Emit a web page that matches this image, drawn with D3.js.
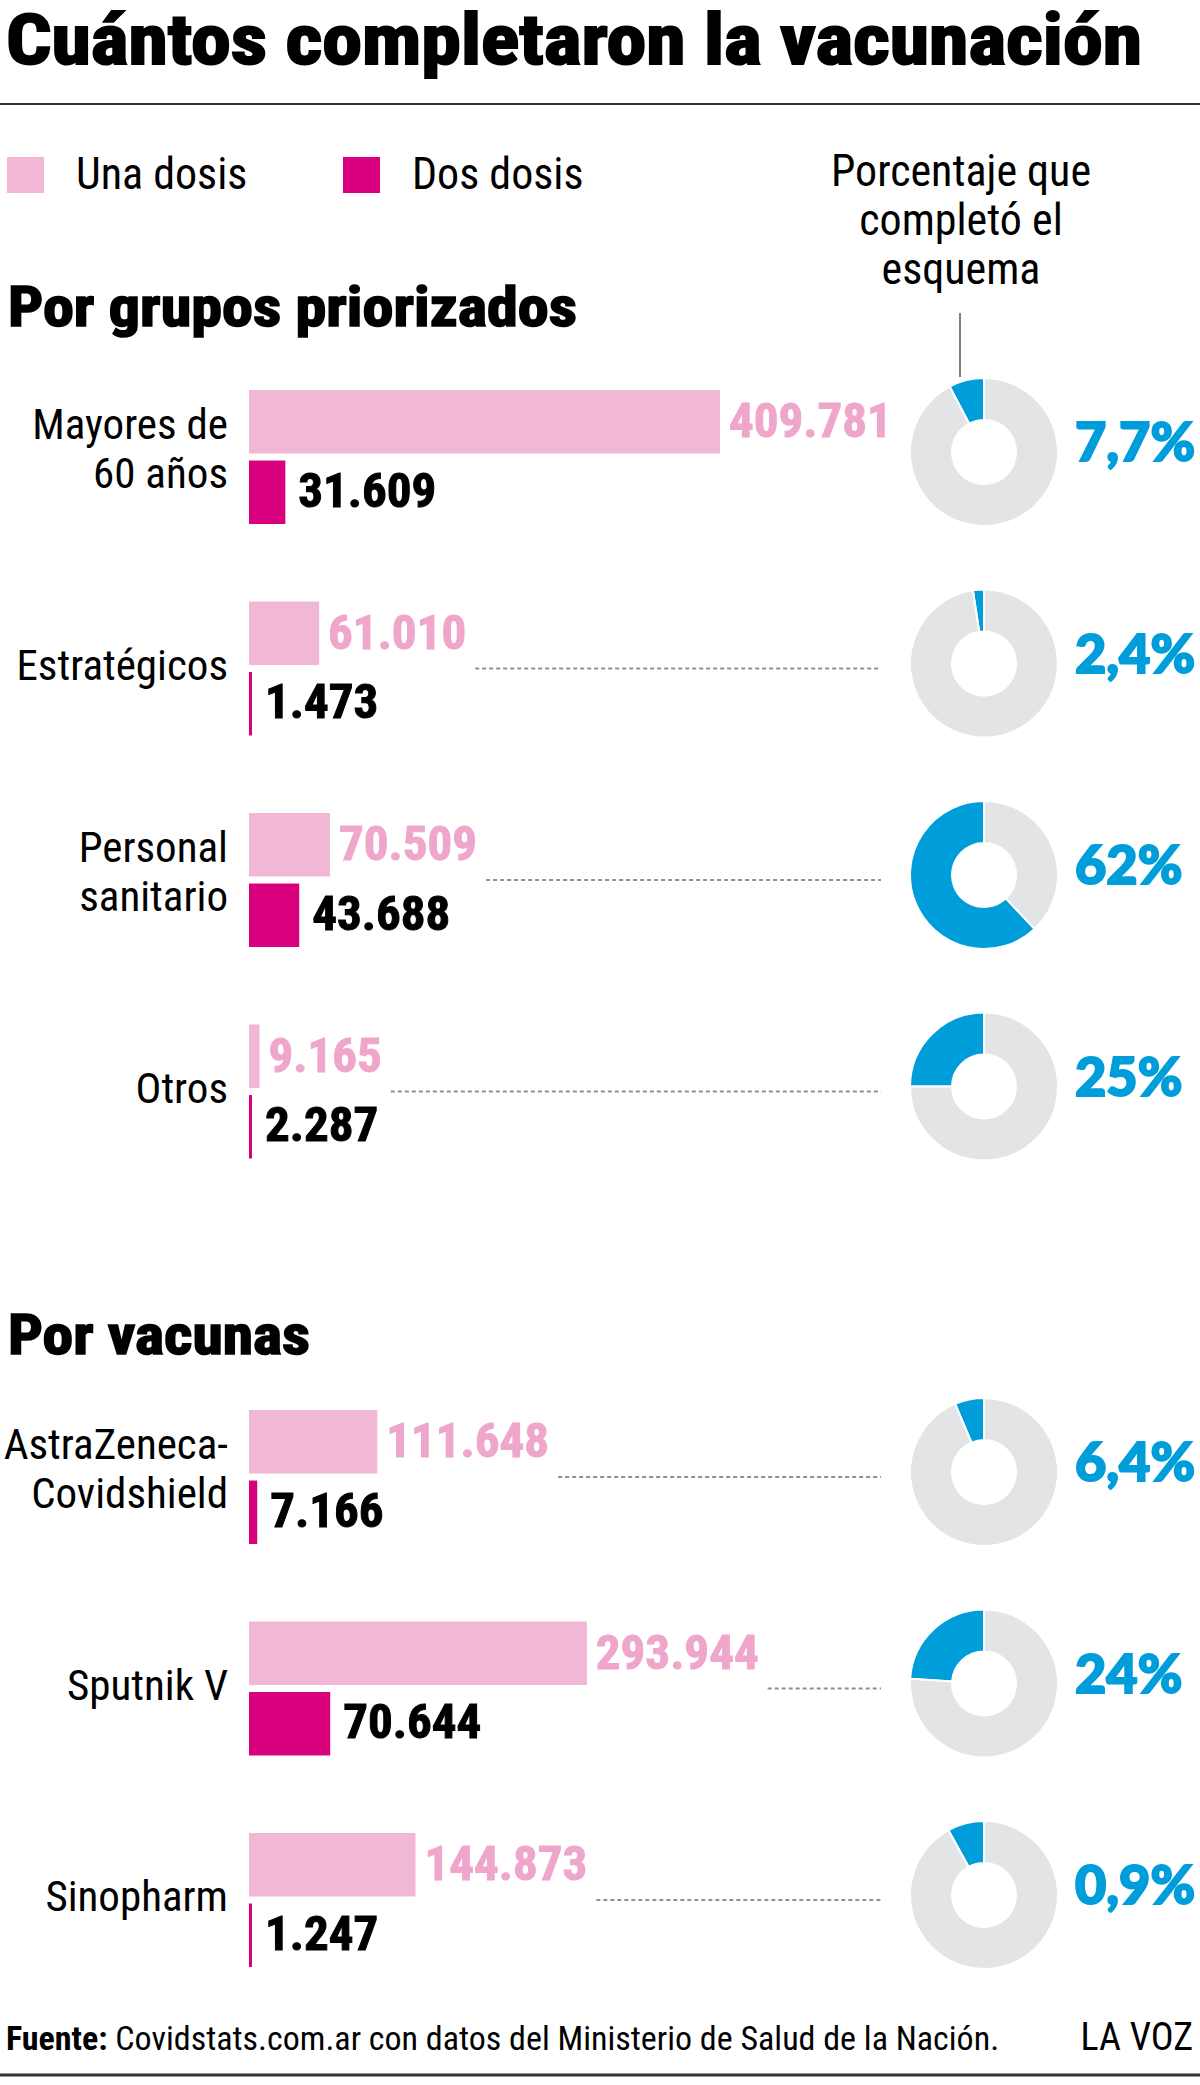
<!doctype html>
<html lang="es">
<head>
<meta charset="UTF-8">
<title>Cuántos completaron la vacunación</title>
<script src="https://d3js.org/d3.v7.min.js"></script>
<style>
  body { margin: 0; background: #fff; }
  svg { display: block; }
  .narrow { font-family: 'Liberation Sans Narrow', 'Roboto Condensed', 'DejaVu Sans Condensed', Roboto, sans-serif; font-stretch: condensed; }
  .heavy { font-family: Lato, 'Open Sans', sans-serif; font-weight: 900; }
</style>
</head>
<body>
<script>
  // --- datos ---
  var grupos = ["Mayores de\n60 años", "Estratégicos", "Personal\nsanitario", "Otros"];
  var gruposUna = [409781, 61010, 70509, 9165];
  var gruposDos = [31609, 1473, 43688, 2287];
  var gruposPct = ["7,7%", "2,4%", "62%", "25%"];
  var gruposAnillo = [7.7, 2.4, 62, 25];   // porción dibujada en el anillo

  var vacunas = ["AstraZeneca-\nCovidshield", "Sputnik V", "Sinopharm"];
  var vacunasUna = [111648, 293944, 144873];
  var vacunasDos = [7166, 70644, 1247];
  var vacunasPct = ["6,4%", "24%", "0,9%"];
  var vacunasAnillo = [6.4, 24, 8];

  var leyenda = ["Una dosis", "Dos dosis"];

  var width = 1200, height = 2085;
  var rosa = "#f1b8d6", rosaTexto = "#efa6cb", magenta = "#d9007e",
      azul = "#009ddb", gris = "#e3e4e6";

  var fmt = d3.formatLocale({decimal: ",", thousands: ".", grouping: [3], currency: ["$", ""]}).format(",d");

  var svg = d3.select("body").append("svg")
      .attr("width", width)
      .attr("height", height);

  // titulo
  svg.append("text")
      .attr("class", "narrow")
      .attr("x", 6).attr("y", 64)
      .attr("font-size", 70).attr("font-weight", 700)
      .attr("stroke", "#000").attr("stroke-width", 2)
      .attr("textLength", 1136).attr("lengthAdjust", "spacingAndGlyphs")
      .text("Cuántos completaron la vacunación");

  svg.append("line")
      .attr("x1", 0).attr("x2", width)
      .attr("y1", 104).attr("y2", 104)
      .attr("stroke", "#333").attr("stroke-width", 2);

  // leyenda
  var leyX = d3.scaleOrdinal().domain(leyenda).range([7, 343]);
  var leyColor = d3.scaleOrdinal().domain(leyenda).range([rosa, magenta]);
  var ley = svg.append("g").selectAll("g").data(leyenda).join("g")
      .attr("transform", function(d) { return "translate(" + leyX(d) + ",0)"; });
  ley.append("rect")
      .attr("y", 157).attr("width", 37).attr("height", 36)
      .attr("fill", function(d) { return leyColor(d); });
  ley.append("text")
      .attr("class", "narrow")
      .attr("x", 69).attr("y", 189)
      .attr("font-size", 44)
      .text(function(d) { return d; });

  var sub = svg.append("text")
      .attr("class", "narrow")
      .attr("text-anchor", "middle")
      .attr("font-size", 44);
  ["Porcentaje que", "completó el", "esquema"].forEach(function(t, i) {
    sub.append("tspan").attr("x", 961).attr("y", 186 + i * 49).text(t);
  });
  svg.append("line")
      .attr("x1", 960).attr("x2", 960)
      .attr("y1", 313).attr("y2", 377)
      .attr("stroke", "#555").attr("stroke-width", 1.5);

  var x = d3.scaleLinear()
      .domain([0, d3.max(gruposUna)])
      .range([249, 720]);

  var arc = d3.arc().innerRadius(32).outerRadius(74);
  var pie = d3.pie().sort(null).value(function(d) { return d; });

  function bloque(titulo, tituloY, tituloW, cats, una, dos, pct, anillo, top) {
    svg.append("text")
        .attr("class", "narrow")
        .attr("x", 8).attr("y", tituloY)
        .attr("font-size", 56).attr("font-weight", 700)
        .attr("stroke", "#000").attr("stroke-width", 1.6)
        .attr("textLength", tituloW).attr("lengthAdjust", "spacingAndGlyphs")
        .text(titulo);

    var y = d3.scaleBand()
        .domain(cats)
        .range([top, top + cats.length * 211.5]);

    var sy = d3.scaleBand()
        .domain(["una", "dos"])
        .range([0, 134])
        .paddingInner(0.1);

    var filas = svg.append("g").selectAll("g")
        .data(cats.map(function(c, i) {
          return {cat: c, una: una[i], dos: dos[i], pct: pct[i], anillo: anillo[i]};
        }))
        .join("g")
        .attr("transform", function(d) { return "translate(0," + y(d.cat) + ")"; });

    // barras
    filas.append("rect")
        .attr("x", x(0)).attr("y", sy("una"))
        .attr("width", function(d) { return Math.max(3, x(d.una) - x(0)); })
        .attr("height", sy.bandwidth())
        .attr("fill", rosa);
    filas.append("rect")
        .attr("x", x(0)).attr("y", sy("dos"))
        .attr("width", function(d) { return Math.max(3, x(d.dos) - x(0)); })
        .attr("height", sy.bandwidth())
        .attr("fill", magenta);

    // valores
    var t1 = filas.append("text")
        .attr("class", "narrow")
        .attr("x", function(d) { return x(0) + Math.max(3, x(d.una) - x(0)) + 9; })
        .attr("y", sy("una") + 47)
        .attr("font-size", 49).attr("font-weight", 700)
        .attr("fill", rosaTexto).attr("stroke", rosaTexto).attr("stroke-width", 1)
        .text(function(d) { return fmt(d.una); });
    var t2 = filas.append("text")
        .attr("class", "narrow")
        .attr("x", function(d) { return x(0) + Math.max(3, x(d.dos) - x(0)) + 13; })
        .attr("y", sy("dos") + 46)
        .attr("font-size", 49).attr("font-weight", 700)
        .attr("fill", "#000").attr("stroke", "#000").attr("stroke-width", 1)
        .text(function(d) { return fmt(d.dos); });

    // etiquetas de categoria
    filas.each(function(d) {
      var lineas = d.cat.split("\n");
      var t = d3.select(this).append("text")
          .attr("class", "narrow")
          .attr("text-anchor", "end")
          .attr("font-size", 43);
      lineas.forEach(function(l, i) {
        t.append("tspan")
            .attr("x", 228)
            .attr("y", lineas.length > 1 ? 49 + i * 49 : 78)
            .text(l);
      });
    });

    // linea punteada
    filas.each(function(d, i) {
      var fin1 = t1.nodes()[i].getComputedTextLength() + (+t1.nodes()[i].getAttribute("x"));
      var fin2 = t2.nodes()[i].getComputedTextLength() + (+t2.nodes()[i].getAttribute("x"));
      var x0 = Math.max(fin1, fin2) + 9;
      if (x0 < 860) {
        d3.select(this).append("line")
            .attr("x1", x0).attr("x2", 881)
            .attr("y1", 67).attr("y2", 67)
            .attr("stroke", "#8f8f8f").attr("stroke-width", 1.8)
            .attr("stroke-dasharray", "4,3");
      }
    });

    // anillos
    var anillos = filas.append("g")
        .attr("transform", "translate(984,62)");
    anillos.selectAll("path")
        .data(function(d) { return pie([d.anillo, 100 - d.anillo]); })
        .join("path")
        .attr("d", function(p) {
          // porcion azul en sentido antihorario desde las 12
          return arc({startAngle: -p.endAngle, endAngle: -p.startAngle});
        })
        .attr("fill", function(p, j) { return j === 0 ? azul : gris; })
        .attr("stroke", "#fff").attr("stroke-width", 2);

    filas.append("text")
        .attr("class", "heavy")
        .attr("x", 1075).attr("y", 71)
        .attr("font-size", 54)
        .attr("fill", azul).attr("stroke", azul).attr("stroke-width", 2)
        .text(function(d) { return d.pct; });
  }

  bloque("Por grupos priorizados", 326, 569, grupos, gruposUna, gruposDos, gruposPct, gruposAnillo, 390);
  bloque("Por vacunas", 1354, 302, vacunas, vacunasUna, vacunasDos, vacunasPct, vacunasAnillo, 1410);

  // fuente
  var fuente = svg.append("text")
      .attr("class", "narrow")
      .attr("x", 6).attr("y", 2050)
      .attr("font-size", 34);
  fuente.append("tspan").attr("font-weight", 700).text("Fuente:");
  fuente.append("tspan").text(" Covidstats.com.ar con datos del Ministerio de Salud de la Nación.");
  svg.append("text")
      .attr("class", "narrow")
      .attr("x", 1193).attr("y", 2050)
      .attr("text-anchor", "end")
      .attr("font-size", 38)
      .text("LA VOZ");
  svg.append("line")
      .attr("x1", 0).attr("x2", width)
      .attr("y1", 2075).attr("y2", 2075)
      .attr("stroke", "#333").attr("stroke-width", 3);
</script>
</body>
</html>
